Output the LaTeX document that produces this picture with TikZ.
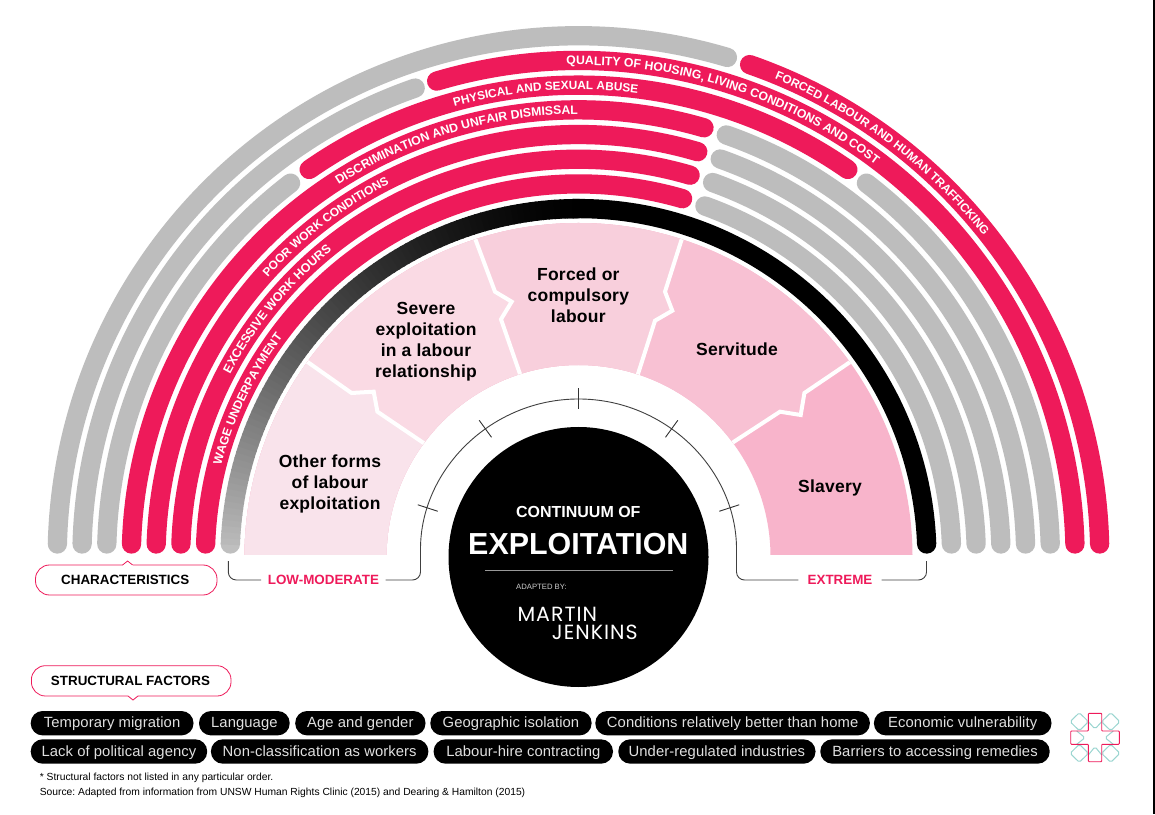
\documentclass[tikz,border=0pt]{standalone}
\usepackage{fontspec}
\usetikzlibrary{decorations.text}
\setmainfont{Liberation Sans}
\newfontfamily\wedgefam[LetterSpace=1.4]{Liberation Sans}
\newfontfamily\pillfam[LetterSpace=0.6]{Liberation Sans}
\newfontfamily\brandfam[LetterSpace=5]{Poppins}
\definecolor{hot}{HTML}{EE1A5A}
\definecolor{bandgray}{HTML}{BDBDBD}
\definecolor{wa}{HTML}{F9E3EB}
\definecolor{wb}{HTML}{FADAE4}
\definecolor{wc}{HTML}{F8CFDC}
\definecolor{wd}{HTML}{F8C1D3}
\definecolor{we}{HTML}{F8B4CB}
\definecolor{tealline}{HTML}{9AD5D0}
\newcommand\wedgef{\wedgefam\fontsize{17.5}{21}\selectfont\bfseries}
\newcommand\tagf{\fontsize{13.4}{16}\selectfont\bfseries}
% ring: colour, radius, from angle, to angle
\newcommand\band[4]{\draw[bandline,#1] (c) ++(#3:#2) arc (#3:#4:#2);}
% label: text, font size, baseline radius, start angle, end angle (the path runs a little past the last letter)
\newcommand\bandlabel[5]{\pgfmathsetmacro\endang{#5-4}\path[decorate,decoration={text along path,text={|\fontsize{#2}{14}\selectfont\bfseries\color{white}|#1},text align={left}}] (c) ++(#4:#3) arc (#4:\endang:#3);}
\newcommand\pill[5]{\node[factor,minimum width={(#3-#2)*1pt}] (#1) at ({(#2+#3)/2},#4) {#5};}
\tikzset{
  x=1pt,y=1pt,
  bandline/.style={line width=19.3pt,line cap=round},
  seam/.style={white,line width=4pt,line join=miter},
  wedgetext/.style={font=\wedgef,align=center,inner sep=0pt,text=black},
  factor/.style={fill=black,rounded corners=12pt,minimum height=24.4pt,inner sep=0pt,text=black!12,font=\pillfam\fontsize{14.8}{16}\selectfont,text height=11.6pt,text depth=2.2pt},
  bracket/.style={draw=black!75,line width=0.9pt,rounded corners=8pt},
  bubble/.style={draw=hot,line width=0.8pt,fill=white,rounded corners=14pt},
  tick/.style={draw=black!80,line width=0.9pt},
  logopink/.style={draw=hot,line width=0.9pt,rounded corners=0.8pt},
  logoteal/.style={draw=tealline,line width=1pt,rounded corners=1.8pt},
}
\begin{document}
\frenchspacing
\begin{tikzpicture}
\useasboundingbox (0,0) rectangle (1155,814);
\fill[white] (0,0) rectangle (1155,814);
\fill[black] (1153.3,0) rectangle (1155,814);
\coordinate (c) at (578.5,257);

% ---- rings, outermost first; ends stop 13 units above the centre line
\def\ra{521.3}\def\rb{496.6}\def\rc{471.9}\def\rd{447.2}\def\re{422.5}\def\rf{397.8}\def\rg{373.1}\def\rh{348.4}
\pgfmathsetmacro\ea{asin(13/\ra)}\pgfmathsetmacro\eb{asin(13/\rb)}\pgfmathsetmacro\ec{asin(13/\rc)}\pgfmathsetmacro\ed{asin(13/\rd)}
\pgfmathsetmacro\ee{asin(13/\re)}\pgfmathsetmacro\ef{asin(13/\rf)}\pgfmathsetmacro\eg{asin(13/\rg)}\pgfmathsetmacro\eh{asin(13/\rh)}
\band{bandgray}{\ra}{180-\ea}{73.4}
\band{hot}{\ra}{70.84}{\ea}
\band{bandgray}{\rb}{180-\eb}{109.2}
\band{hot}{\rb}{106.6}{\eb}
\band{bandgray}{\rc}{180-\ec}{127.6}
\band{hot}{\rc}{124.8}{55.2}
\band{bandgray}{\rc}{52.4}{\ec}
\band{hot}{\rd}{180-\ed}{73.7}
\band{bandgray}{\rd}{70.7}{\ed}
\band{hot}{\re}{180-\ee}{73.6}
\band{bandgray}{\re}{70.4}{\ee}
\band{hot}{\rf}{180-\ef}{73.7}
\band{bandgray}{\rf}{70.3}{\ef}
\band{hot}{\rg}{180-\eg}{73.8}
\band{bandgray}{\rg}{70.2}{\eg}
% innermost ring: gray to black
\band{black}{\rh}{92}{\eh}
\fill[white!75!black] (c) ++(180-\eh:\rh) circle (9.65);
\foreach \a in {178,177,...,91}{
  \pgfmathsetmacro\lev{75*pow((\a-90)/90,1.5)}
  \pgfmathsetmacro\b{\a-1.2}
  \draw[line width=19.3pt,white!\lev!black] (c) ++(\a:\rh) arc (\a:\b:\rh);
}
% ---- ring labels
\bandlabel{WAGE UNDERPAYMENT}{12.15}{\rg-4.4}{165.7}{143.8}
\bandlabel{EXCESSIVE WORK HOURS}{12.4}{\rf-4.4}{152.3}{129.6}
\bandlabel{POOR WORK CONDITIONS}{11.9}{\re-4.4}{138}{116.7}
\bandlabel{DISCRIMINATION AND UNFAIR DISMISSAL}{12.3}{\rd-4.4}{122.8}{90.4}
\bandlabel{PHYSICAL AND SEXUAL ABUSE}{11.85}{\rc-4.4}{105.4}{83}
\bandlabel{QUALITY OF HOUSING, LIVING CONDITIONS AND COST}{12.27}{\rb-4.4}{91.4}{53.2}
\bandlabel{FORCED LABOUR AND HUMAN TRAFFICKING}{11.87}{\ra-4.4}{67.7}{38.4}

% ---- wedges
\begin{scope}
\clip (c) ++(180:334) arc (180:0:334) -- ++(-142,0) arc (0:180:192) -- cycle;
\clip (0,260) rectangle (1155,814);
\begin{scope}[shift={(0,814)},yscale=-1]
\fill[we] (0,0) rectangle (1155,814);
\fill[wd] (578.5,557) -- (734,441.7) -- (780,411.7) -- (800.7,415) -- (804.4,393) -- (850.6,361.7) -- (877.8,342) -- (877.8,0) -- (0,0) -- (0,557) -- cycle;
\fill[wc] (578.5,557) -- (638.3,373) -- (655,320.7) -- (672.3,310.7) -- (665,291.7) -- (681.7,239.3) -- (692,207.5) -- (692,0) -- (0,0) -- (0,557) -- cycle;
\fill[wb] (578.5,557) -- (520,374) -- (501,319.3) -- (511.7,301.7) -- (495,291.7) -- (475,238.3) -- (464.6,206) -- (464.6,0) -- (0,0) -- (0,557) -- cycle;
\fill[wa] (578.5,557) -- (423.6,443) -- (377.4,411.7) -- (373.7,391.7) -- (351.5,393) -- (309,363) -- (282,344) -- (0,344) -- (0,557) -- cycle;
\draw[seam] (578.5,557) -- (423.6,443) -- (377.4,411.7) -- (373.7,391.7) -- (351.5,393) -- (309,363) -- (282,344);
\draw[seam] (578.5,557) -- (520,374) -- (501,319.3) -- (511.7,301.7) -- (495,291.7) -- (475,238.3) -- (464.6,206);
\draw[seam] (578.5,557) -- (638.3,373) -- (655,320.7) -- (672.3,310.7) -- (665,291.7) -- (681.7,239.3) -- (692,207.5);
\draw[seam] (578.5,557) -- (734,441.7) -- (780,411.7) -- (800.7,415) -- (804.4,393) -- (850.6,361.7) -- (877.8,342);
\end{scope}
\end{scope}

\begin{scope}[shift={(0,814)},yscale=-1]
\node[wedgetext] (other) at (330,483.5) {Other forms\\of labour\\exploitation};
\node[wedgetext] (severe) at (426,341.5) {Severe\\exploitation\\in a labour\\relationship};
\node[wedgetext] (forced) at (578.3,295) {Forced or\\compulsory\\labour};
\node[wedgetext] (servitude) at (737,349) {Servitude};
\node[wedgetext] (slavery) at (830,487.7) {Slavery};
\end{scope}

% ---- inner arc with brackets, label nodes at y = 234
\node[font=\tagf,text=hot,inner ysep=0pt,inner xsep=6.4pt] (low) at (323.4,234) {LOW-MODERATE};
\node[font=\tagf,text=hot,inner ysep=0pt,inner xsep=9pt] (extreme) at (840,234) {EXTREME};
\coordinate (lowend) at (228.3,253);
\coordinate (extend) at (926.5,253);
\draw[bracket] (low.west) -| (lowend);
\draw[bracket] (extreme.east) -| (extend);
\draw[bracket] (low.east) -- (420.5,234) -- (420.5,257) arc (180:0:158) -- (736.5,234) -- (extreme.west);
\foreach \a in {18,54,90,126,162}{
  \draw[tick] (c) ++(\a:148) -- ++(\a:21);
}

% ---- centre disc
\fill[black] (c) circle (130);
\begin{scope}[shift={(0,814)},yscale=-1]
\node[text=white,font=\fontsize{16}{18}\selectfont\bfseries,inner sep=0pt] (cont) at (578.3,511.7) {CONTINUUM OF};
\node[text=white,font=\fontsize{30.4}{34}\selectfont\bfseries,inner sep=0pt] (expl) at (578.3,544) {EXPLOITATION};
\draw[black!40,line width=1.2pt] (485,570.7) -- (673.3,570.7);
\node[text=black!20,font=\fontsize{7.7}{9}\selectfont,inner sep=0pt,anchor=west] (adapted) at (516,587) {ADAPTED BY:};
\node[text=white,font=\brandfam\fontsize{20.5}{22}\selectfont,inner sep=0pt,anchor=west] (martin) at (517.3,614.2) {MARTIN};
\node[text=white,font=\brandfam\fontsize{20.5}{22}\selectfont,inner sep=0pt,anchor=west] (jenkins) at (551.7,632.2) {JENKINS};

% ---- call-outs
\draw[bubble] (35.5,565) rectangle (217,595);
\fill[white] (122.6,562) rectangle (132.6,566);
\draw[draw=hot,line width=0.8pt] (122.6,565) -- (127.6,561) -- (132.6,565);
\node[font=\tagf,inner sep=0pt] (chars) at (125.2,580) {CHARACTERISTICS};
\draw[bubble] (31.4,665.7) rectangle (231,696);
\fill[white] (128,694) rectangle (138,698);
\draw[draw=hot,line width=0.8pt] (128,696) -- (133,700) -- (138,696);
\node[font=\tagf,inner sep=0pt] (struct) at (130.5,681) {STRUCTURAL FACTORS};

% ---- factor pills
\pill{pa}{30.7}{193.5}{723.2}{Temporary migration}
\pill{pb}{199}{289.7}{723.2}{Language}
\pill{pc}{295.2}{425.5}{723.2}{Age and gender}
\pill{pd}{430.3}{591.6}{723.2}{Geographic isolation}
\pill{pe}{595.3}{869.9}{723.2}{Conditions relatively better than home}
\pill{pf}{873.9}{1051.5}{723.2}{Economic vulnerability}
\pill{qa}{30.7}{207.2}{751.5}{Lack of political agency}
\pill{qb}{210.9}{428.4}{751.5}{Non-classification as workers}
\pill{qc}{433.6}{613}{751.5}{Labour-hire contracting}
\pill{qd}{618.3}{815.5}{751.5}{Under-regulated industries}
\pill{qe}{820.3}{1049.7}{751.5}{Barriers to accessing remedies}

% ---- notes
\node[font=\fontsize{10.3}{12}\selectfont,text=black,inner sep=0pt,anchor=west] (nta) at (39.6,778) {* Structural factors not listed in any particular order.};
\node[font=\fontsize{10.3}{12}\selectfont,text=black,inner sep=0pt,anchor=west] (ntb) at (39.6,792.7) {Source: Adapted from information from UNSW Human Rights Clinic (2015) and Dearing \& Hamilton (2015)};

% ---- logo
\foreach \dx/\dy in {-15.7/-15.8,15.7/-15.8,-15.7/15.8,15.7/15.8}{
  \draw[logoteal] (1095+\dx-9.2,737.5+\dy) -- (1095+\dx,737.5+\dy-9) -- (1095+\dx+9.2,737.5+\dy) -- (1095+\dx,737.5+\dy+9) -- cycle;
}
\draw[logoteal] (1088.3,721.7) -- (1095,729) -- (1101.7,721.7);
\draw[logoteal] (1088.3,755) -- (1095,746.7) -- (1101.7,755);
\draw[logoteal] (1076.7,731) -- (1085,737.7) -- (1076.7,744.3);
\draw[logoteal] (1113.3,731) -- (1105,737.7) -- (1113.3,744.3);
\draw[logopink] (1088.3,713.3) -- (1101.7,713.3) -- (1101.7,731) -- (1119.3,731) -- (1119.3,744.3) -- (1101.7,744.3) -- (1101.7,761.7) -- (1088.3,761.7) -- (1088.3,744.3) -- (1070.7,744.3) -- (1070.7,731) -- (1088.3,731) -- cycle;
\end{scope}
\end{tikzpicture}
\end{document}
